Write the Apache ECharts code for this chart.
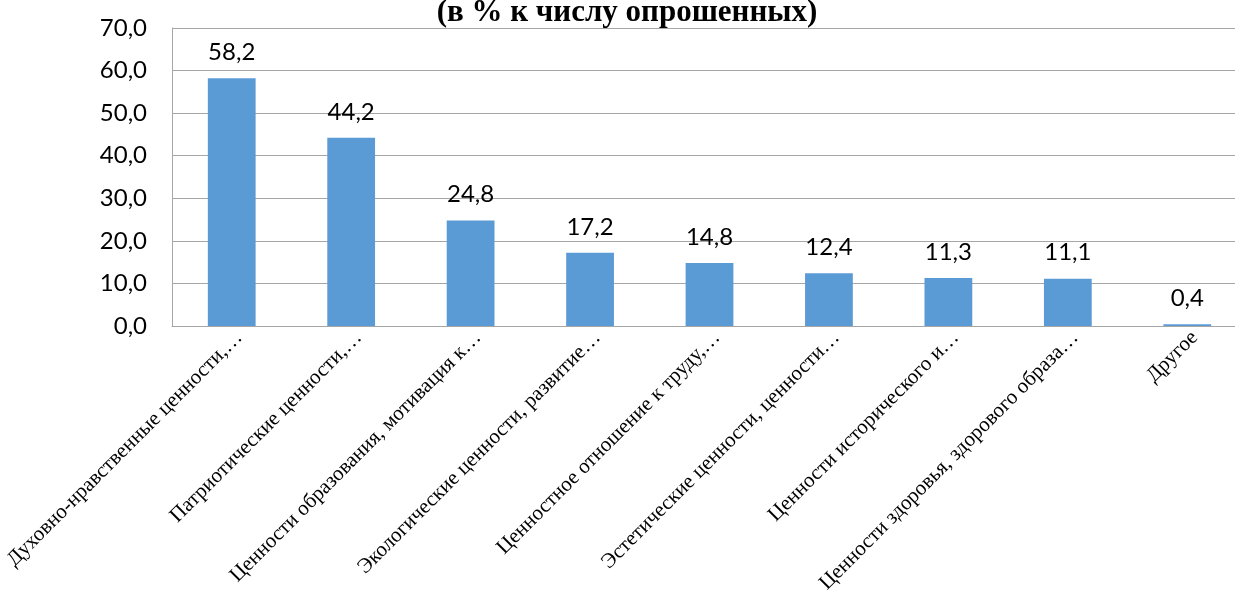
<!DOCTYPE html>
<html>
<head>
<meta charset="utf-8">
<script src="https://cdn.jsdelivr.net/npm/echarts@6/dist/echarts.min.js"></script>
<style>
html,body{margin:0;padding:0;background:#fff;}
#chart{width:1235px;height:592px;}
</style>
</head>
<body>
<div id="chart"></div>
<script>
const titleText = '(в % к числу опрошенных)';
const categories = [
  'Духовно-нравственные ценности,…',
  'Патриотические ценности,…',
  'Ценности образования, мотивация к…',
  'Экологические ценности, развитие…',
  'Ценностное отношение к труду,…',
  'Эстетические ценности, ценности…',
  'Ценности исторического и…',
  'Ценности здоровья, здорового образа…',
  'Другое'
];
const values = [58.2, 44.2, 24.8, 17.2, 14.8, 12.4, 11.3, 11.1, 0.4];
const yTicks = { min: 0, max: 70, interval: 10 };

const fmt = v => Number(v).toFixed(1).replace('.', ',');

const chart = echarts.init(document.getElementById('chart'), null, {renderer: 'canvas'});
chart.setOption({
  animation: false,
  backgroundColor: '#ffffff',
  title: {
    text: titleText,
    left: 627,
    textAlign: 'center',
    top: -3,
    padding: 0,
    textStyle: {
      fontFamily: '"Liberation Serif", "Times New Roman", serif',
      fontWeight: 'bold',
      fontSize: 31,
      color: '#000'
    }
  },
  grid: { left: 172, top: 28, width: 1075, bottom: 266, containLabel: false, outerBoundsMode: 'none' },
  xAxis: {
    type: 'category',
    data: categories,
    axisLine: { show: true, lineStyle: { color: '#a6a6a6', width: 1 } },
    axisTick: { show: false },
    axisLabel: {
      interval: 0,
      rotate: 45,
      margin: 1,
      align: 'right',
      verticalAlign: 'top',
      fontFamily: '"Liberation Serif", "Times New Roman", serif',
      fontSize: 21,
      color: '#000'
    }
  },
  yAxis: {
    type: 'value',
    min: yTicks.min,
    max: yTicks.max,
    interval: yTicks.interval,
    axisLine: { show: true, lineStyle: { color: '#a6a6a6', width: 1 } },
    axisTick: { show: false },
    splitLine: { show: true, lineStyle: { color: '#a6a6a6', width: 1 } },
    axisLabel: {
      margin: 25,
      formatter: fmt,
      fontFamily: 'Lato, "Open Sans", sans-serif',
      fontSize: 24,
      color: '#000'
    }
  },
  series: [{
    type: 'bar',
    data: values,
    barWidth: '40%',
    itemStyle: { color: '#5b9bd5' },
    label: {
      show: true,
      position: 'top',
      distance: 14,
      formatter: p => fmt(p.value),
      fontFamily: 'Lato, "Open Sans", sans-serif',
      fontSize: 24,
      color: '#000'
    }
  }]
});
</script>
</body>
</html>
